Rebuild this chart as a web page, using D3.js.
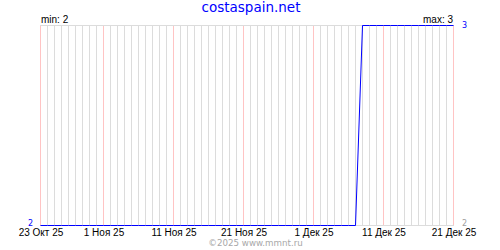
<!DOCTYPE html>
<html>
<head>
<meta charset="utf-8">
<script src="https://cdn.jsdelivr.net/npm/d3@7"></script>
<style>
  body { margin: 0; background: #fff; }
  svg { display: block; }
</style>
</head>
<body>
<script>
// daily values, 23 Oct 2025 .. 21 Dec 2025
var startDay = "2025-10-23";
var values = [
  2, 2, 2, 2, 2, 2, 2, 2, 2, 2,
  2, 2, 2, 2, 2, 2, 2, 2, 2, 2,
  2, 2, 2, 2, 2, 2, 2, 2, 2, 2,
  2, 2, 2, 2, 2, 2, 2, 2, 2, 2,
  2, 2, 2, 2, 2, 2, 3, 3, 3, 3,
  3, 3, 3, 3, 3, 3, 3, 3, 3, 3
];
var tickDays = ["2025-10-23", "2025-11-01", "2025-11-11", "2025-11-21", "2025-12-01", "2025-12-11", "2025-12-21"];
var tickLabels = ["23 Окт 25", "1 Ноя 25", "11 Ноя 25", "21 Ноя 25", "1 Дек 25", "11 Дек 25", "21 Дек 25"];
var title = "costaspain.net";
var footer = "©2025 www.mmnt.ru";

var w = 500, h = 250;
var pLeft = 40, pRight = 453, pTop = 25, pBottom = 225;

var parse = d3.utcParse("%Y-%m-%d");
var start = parse(startDay);
var data = values.map(function(v, i) {
  return { date: d3.utcDay.offset(start, i), value: v };
});
var ticks = tickDays.map(parse);

var x = d3.scaleUtc()
  .domain([data[0].date, data[data.length - 1].date])
  .range([pLeft + 0.5, pRight + 0.5]);

var vmin = d3.min(values), vmax = d3.max(values);
var y = d3.scaleLinear()
  .domain([vmin, vmax])
  .range([pBottom + 0.5, pTop + 0.5]);

var svg = d3.select("body").append("svg")
  .attr("width", w)
  .attr("height", h);

// day grid
var isTick = function(d) {
  return ticks.some(function(t) { return +t === +d.date; });
};
svg.append("g").selectAll("line")
  .data(data)
  .enter().append("line")
    .attr("x1", function(d) { return x(d.date); })
    .attr("x2", function(d) { return x(d.date); })
    .attr("y1", pTop)
    .attr("y2", pBottom)
    .attr("stroke", function(d) { return isTick(d) ? "#ffc4c4" : "#dcdcdc"; })
    .attr("shape-rendering", "crispEdges");

// top and bottom border
svg.append("g").selectAll("line")
  .data([vmin, vmax])
  .enter().append("line")
    .attr("x1", pLeft)
    .attr("x2", pRight + 1)
    .attr("y1", function(d) { return y(d); })
    .attr("y2", function(d) { return y(d); })
    .attr("stroke", "#dcdcdc")
    .attr("shape-rendering", "crispEdges");

// data line
var line = d3.line()
  .x(function(d) { return x(d.date); })
  .y(function(d) { return y(d.value); });

svg.append("path")
  .datum(data)
  .attr("d", line)
  .attr("fill", "none")
  .attr("stroke", "#0000ff")
  .attr("stroke-width", 1);

// x axis
var xAxis = svg.append("g")
  .attr("transform", "translate(0," + pBottom + ")")
  .call(d3.axisBottom(x)
    .tickValues(ticks)
    .tickFormat(function(d, i) { return tickLabels[i]; })
    .tickSize(0)
    .tickPadding(4));
xAxis.select(".domain").remove();
xAxis.selectAll("text")
  .attr("fill", "#000")
  .style("font-family", "'Liberation Sans', Arial, sans-serif")
  .style("font-size", "10px");

// labels
var small = "'DejaVu Sans', Verdana, sans-serif";

svg.append("text")
  .attr("x", 251)
  .attr("y", 12)
  .attr("text-anchor", "middle")
  .attr("fill", "#0000ff")
  .style("font-family", small)
  .style("font-size", "13.5px")
  .text(title);

svg.append("text")
  .attr("x", pLeft + 1)
  .attr("y", 22.5)
  .style("font-family", "'Liberation Sans', Arial, sans-serif")
  .style("font-size", "10px")
  .text("min: " + vmin);

svg.append("text")
  .attr("x", pRight)
  .attr("y", 22.5)
  .attr("text-anchor", "end")
  .style("font-family", "'Liberation Sans', Arial, sans-serif")
  .style("font-size", "10px")
  .text("max: " + vmax);

svg.append("text")
  .attr("x", 33)
  .attr("y", y(vmin))
  .attr("text-anchor", "end")
  .attr("fill", "#0000ff")
  .style("font-family", small)
  .style("font-size", "8px")
  .text(vmin);

svg.append("text")
  .attr("x", 462)
  .attr("y", y(vmax) + 2)
  .attr("fill", "#0000ff")
  .style("font-family", small)
  .style("font-size", "8px")
  .text(vmax);

svg.append("text")
  .attr("x", 462)
  .attr("y", y(vmin) + 0.5)
  .attr("fill", "#a0a0a0")
  .style("font-family", small)
  .style("font-size", "8px")
  .text(values[values.length - 1] === vmax ? vmin : vmax);

svg.append("text")
  .attr("x", 255.5)
  .attr("y", 246)
  .attr("text-anchor", "middle")
  .attr("fill", "#a8a8a8")
  .style("font-family", small)
  .style("font-size", "8.7px")
  .text(footer);
</script>
</body>
</html>
